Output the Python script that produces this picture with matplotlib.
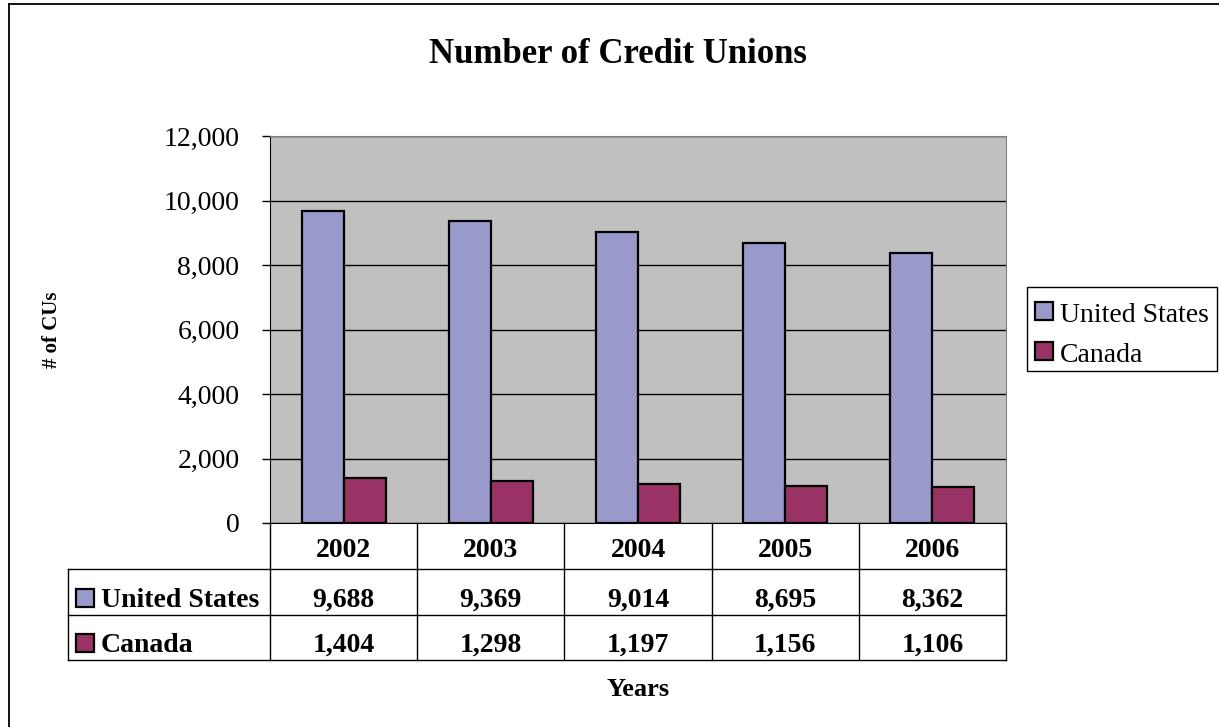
import numpy as np
import matplotlib
matplotlib.use('Agg')
import matplotlib.pyplot as plt
from matplotlib.lines import Line2D
from matplotlib.patches import Rectangle
from matplotlib.ticker import FuncFormatter
from matplotlib.transforms import blended_transform_factory

plt.rcParams['font.family'] = ['Liberation Serif', 'DejaVu Serif']

years = ['2002', '2003', '2004', '2005', '2006']
us_counts = [9688, 9369, 9014, 8695, 8362]
canada_counts = [1404, 1298, 1197, 1156, 1106]
series_names = ['United States', 'Canada']
colors = ['#9999CC', '#993366']

W, H = 1219, 727
fig = plt.figure(figsize=(W / 100, H / 100), dpi=100)


def fx(x):
    return x / W


def fy(y):
    return 1 - y / H


def fline(x0, y0, x1, y1, **kw):
    kw.setdefault('color', 'black')
    kw.setdefault('lw', 1)
    fig.add_artist(Line2D([fx(x0), fx(x1)], [fy(y0), fy(y1)],
                          transform=fig.transFigure, **kw))


# plot area
ax = fig.add_axes([fx(270), fy(523), (1006 - 270) / W, (523 - 136) / H])
ax.set_facecolor('#C0C0C0')
x = np.arange(len(years))
w = 0.286
ax.bar(x - w / 2, us_counts, w, color=colors[0], edgecolor='black', lw=1.6, zorder=3)
ax.bar(x + w / 2, canada_counts, w, color=colors[1], edgecolor='black', lw=1.6, zorder=3)
ax.set_xlim(-0.5, len(years) - 0.5)
ax.set_ylim(0, 12000)
ax.set_yticks(np.arange(0, 12001, 2000))
ax.yaxis.set_major_formatter(FuncFormatter(lambda v, p: f'{int(v):,}'))
ax.yaxis.grid(True, color='black', lw=1)
ax.set_axisbelow(True)
ax.set_xticks([])
ax.tick_params(axis='y', length=6, width=1, direction='out', labelsize=20, pad=16)
for lbl in ax.get_yticklabels():
    lbl.set_va('center_baseline')
for s in ['top', 'right']:
    ax.spines[s].set_color('#808080')
for s in ['left', 'bottom']:
    ax.spines[s].set_color('black')

# data table under the axis
trans = blended_transform_factory(ax.transData, fig.transFigure)
for i in range(len(years) + 1):
    fig.add_artist(Line2D([i - 0.5, i - 0.5], [fy(523), fy(660)],
                          transform=trans, color='black', lw=1))
for yy in [569, 615, 660]:
    fline(68, yy, 1006, yy)
fline(68, 569, 68, 660)

for i, yr in enumerate(years):
    fig.text(i, fy(557), yr, transform=trans, ha='center', va='baseline',
             fontsize=20, fontweight='bold')
    fig.text(i, fy(607), f'{us_counts[i]:,}', transform=trans, ha='center',
             va='baseline', fontsize=20, fontweight='bold')
    fig.text(i, fy(652), f'{canada_counts[i]:,}', transform=trans, ha='center',
             va='baseline', fontsize=20, fontweight='bold')

for name, col, base in zip(series_names, colors, [607, 652]):
    fig.add_artist(Rectangle((fx(76), fy(base)), 18 / W, 18 / H,
                             transform=fig.transFigure, fc=col, ec='black', lw=1.6))
    fig.text(fx(101), fy(base), name, ha='left', va='baseline',
             fontsize=20, fontweight='bold')

# legend
fig.add_artist(Rectangle((fx(1027), fy(371)), 190 / W, 84 / H,
                         transform=fig.transFigure, fc='white', ec='black', lw=1))
for name, col, base in zip(series_names, colors, [322, 362]):
    fig.add_artist(Rectangle((fx(1035), fy(base - 2)), 18 / W, 18 / H,
                             transform=fig.transFigure, fc=col, ec='black', lw=1.6))
    fig.text(fx(1060), fy(base), name, ha='left', va='baseline', fontsize=20)

# titles
fig.text(fx(618), fy(63), 'Number of Credit Unions', ha='center', va='baseline',
         fontsize=25, fontweight='bold')
fig.text(fx(638), fy(696), 'Years', ha='center', va='baseline',
         fontsize=19, fontweight='bold')
fig.text(fx(52), fy(330), '# of CUs', ha='center', va='center', rotation=90,
         fontsize=15, fontweight='bold')

# chart border (left and top edges)
fline(8.5, 3.5, 8.5, 727, lw=1.3)
fline(8.5, 3.5, 1219, 3.5, lw=1.3)

fig.savefig('out.png', dpi=100)
